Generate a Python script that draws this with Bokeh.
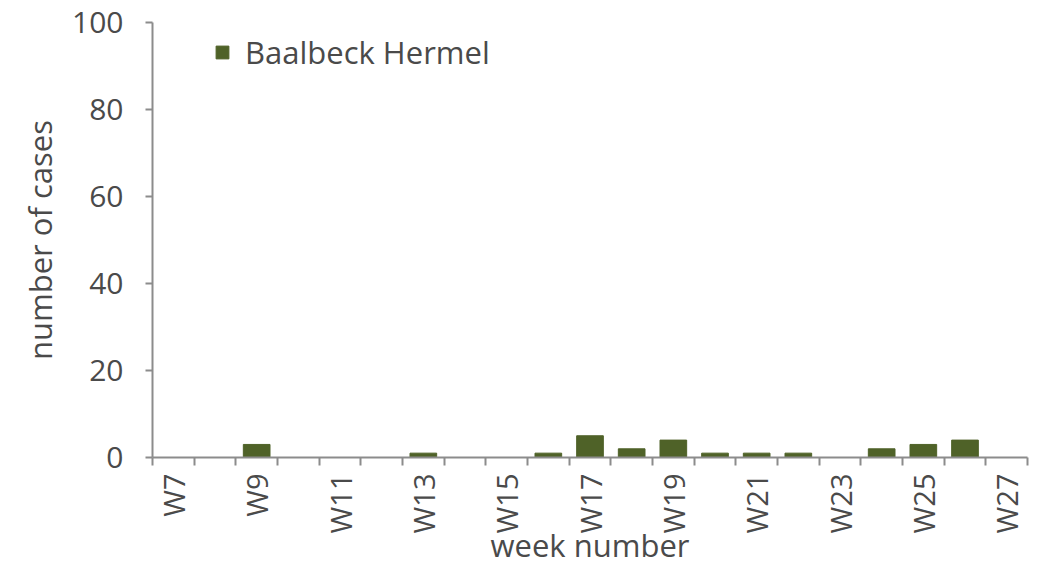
from bokeh.plotting import figure
from bokeh.models import FixedTicker, Range1d, Legend, LegendItem, ColumnDataSource
from bokeh.embed import file_html
from bokeh.resources import INLINE
import math

weeks = ["W7", "W8", "W9", "W10", "W11", "W12", "W13", "W14", "W15", "W16", "W17",
         "W18", "W19", "W20", "W21", "W22", "W23", "W24", "W25", "W26", "W27"]
cases = [0, 0, 3, 0, 0, 0, 1, 0, 0, 1, 5, 2, 4, 1, 1, 1, 0, 2, 3, 4, 0]
series_name = "Baalbeck Hermel"
y_ticks = [0, 20, 40, 60, 80, 100]

FONT = "Open Sans"
TXT = "#4a4a4a"
AX = "#8c8c8c"
FS = "30px"
FL = "31px"

xs = list(range(len(weeks)))
src = ColumnDataSource(dict(x=xs, top=cases, week=weeks))

p = figure(width=1029, height=571, output_backend="svg", toolbar_location=None,
           x_range=Range1d(-0.5, len(weeks) - 0.5), y_range=Range1d(0, 100),
           min_border_left=152, min_border_right=2, min_border_top=22, min_border_bottom=114)
p.outline_line_color = None
p.xgrid.visible = False
p.ygrid.visible = False
p.background_fill_color = "white"
p.border_fill_color = "white"

r = p.vbar(x="x", top="top", width=0.64, source=src, fill_color="#4F6228", line_color="#4F6228")

# x axis
p.xaxis.ticker = FixedTicker(ticks=xs[::2], minor_ticks=[i - 0.5 for i in range(len(weeks) + 1)])
p.xaxis.major_label_overrides = {i: weeks[i] for i in xs[::2]}
p.xaxis.major_label_orientation = math.pi / 2
p.xaxis.major_tick_out = 0
p.xaxis.major_tick_in = 0
p.xaxis.minor_tick_out = 8
p.xaxis.minor_tick_in = 0
p.xaxis.minor_tick_line_color = AX
p.xaxis.axis_line_color = AX
p.xaxis.axis_line_width = 2
p.xaxis.minor_tick_line_width = 2
p.xaxis.major_label_text_font = FONT
p.xaxis.major_label_text_font_size = "29px"
p.xaxis.major_label_text_color = TXT
p.xaxis.major_label_standoff = 8
p.xaxis.axis_label = "week number"
p.xaxis.axis_label_text_font = FONT
p.xaxis.axis_label_text_font_size = FL
p.xaxis.axis_label_text_font_style = "normal"
p.xaxis.axis_label_text_color = TXT
p.xaxis.axis_label_standoff = -12

# y axis
p.yaxis.ticker = FixedTicker(ticks=y_ticks, minor_ticks=[])
p.yaxis.major_tick_out = 7
p.yaxis.major_tick_in = 0
p.yaxis.major_tick_line_color = AX
p.yaxis.major_tick_line_width = 2
p.yaxis.axis_line_color = AX
p.yaxis.axis_line_width = 2
p.yaxis.major_label_text_font = FONT
p.yaxis.major_label_text_font_size = FS
p.yaxis.major_label_text_color = TXT
p.yaxis.major_label_standoff = 22
p.yaxis.axis_label = "number of cases"
p.yaxis.axis_label_text_font = FONT
p.yaxis.axis_label_text_font_size = FL
p.yaxis.axis_label_text_font_style = "normal"
p.yaxis.axis_label_text_color = TXT
p.yaxis.axis_label_standoff = 8

legend = Legend(items=[LegendItem(label=series_name, renderers=[r])],
                location=(62, 384), orientation="vertical",
                padding=0, margin=0, spacing=0,
                glyph_width=16, glyph_height=16, label_standoff=15,
                label_text_font=FONT, label_text_font_size=FL, label_text_color=TXT,
                border_line_color=None, background_fill_alpha=0)
p.add_layout(legend)

open("out.html", "w").write(file_html(p, INLINE))
